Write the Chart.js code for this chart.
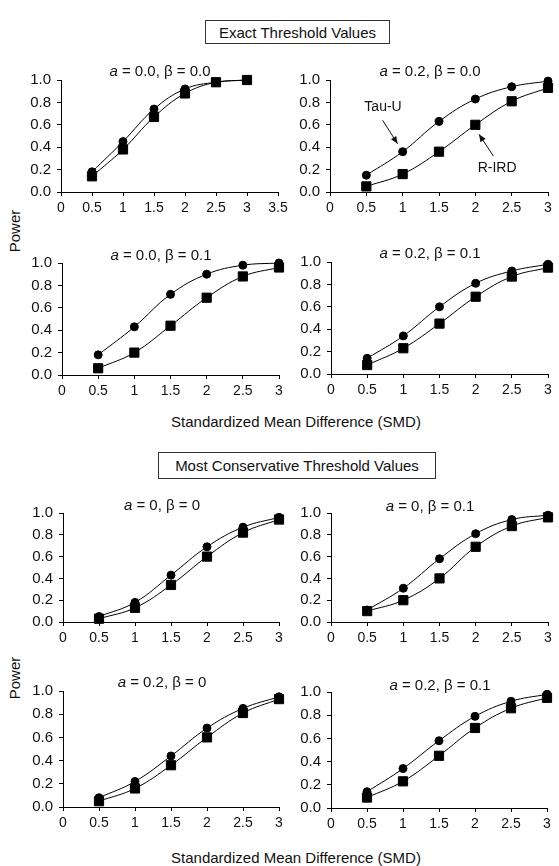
<!DOCTYPE html>
<html><head><meta charset="utf-8">
<script src="https://cdn.jsdelivr.net/npm/chart.js@4/dist/chart.umd.min.js"></script>
<style>
body{margin:0;background:#fff;width:559px;height:866px;position:relative;overflow:hidden;font-family:"Liberation Sans",Arial,sans-serif;color:#111}
canvas{position:absolute}
.box{position:absolute;border:1px solid #333;font-size:15px;box-sizing:border-box;display:flex;align-items:center;justify-content:center;white-space:nowrap}
.lbl{position:absolute;font-size:15px;white-space:nowrap;transform:translate(-50%,-50%)}
.power{position:absolute;font-size:15px;white-space:nowrap;transform:translate(-50%,-50%) rotate(-90deg)}
</style>
</head><body>
<div class="box" style="left:205px;top:20px;width:185px;height:24px">Exact Threshold Values</div>
<div class="box" style="left:158px;top:452px;width:278px;height:27px">Most Conservative Threshold Values</div>
<div class="power" style="left:14px;top:231px">Power</div>
<div class="power" style="left:14px;top:678px">Power</div>
<div class="lbl" style="left:296px;top:421px">Standardized Mean Difference (SMD)</div>
<div class="lbl" style="left:296px;top:857px">Standardized Mean Difference (SMD)</div>
<script>
// ---- data ----
const smd = [0.5, 1, 1.5, 2, 2.5, 3];
const xTicksWide = [0, 0.5, 1, 1.5, 2, 2.5, 3, 3.5];
const xTicks = [0, 0.5, 1, 1.5, 2, 2.5, 3];
const yTicks = [0, 0.2, 0.4, 0.6, 0.8, 1.0];
const seriesNames = ['Tau-U', 'R-IRD'];

// Exact threshold values
const tauU_exact_a00_b00 = [0.18, 0.45, 0.74, 0.92, 0.98, 1.00];
const rird_exact_a00_b00 = [0.14, 0.38, 0.67, 0.88, 0.98, 1.00];
const tauU_exact_a02_b00 = [0.15, 0.36, 0.63, 0.83, 0.94, 0.99];
const rird_exact_a02_b00 = [0.05, 0.16, 0.36, 0.60, 0.81, 0.93];
const tauU_exact_a00_b01 = [0.18, 0.43, 0.72, 0.90, 0.98, 1.00];
const rird_exact_a00_b01 = [0.06, 0.20, 0.44, 0.69, 0.88, 0.96];
const tauU_exact_a02_b01 = [0.14, 0.34, 0.60, 0.81, 0.92, 0.98];
const rird_exact_a02_b01 = [0.08, 0.23, 0.45, 0.69, 0.87, 0.95];
// Most conservative threshold values
const tauU_cons_a0_b0 = [0.05, 0.18, 0.43, 0.69, 0.87, 0.96];
const rird_cons_a0_b0 = [0.03, 0.13, 0.34, 0.60, 0.82, 0.94];
const tauU_cons_a0_b01 = [0.11, 0.31, 0.58, 0.81, 0.94, 0.98];
const rird_cons_a0_b01 = [0.10, 0.20, 0.40, 0.69, 0.88, 0.96];
const tauU_cons_a02_b0 = [0.08, 0.22, 0.44, 0.68, 0.85, 0.95];
const rird_cons_a02_b0 = [0.05, 0.16, 0.36, 0.60, 0.81, 0.93];
const tauU_cons_a02_b01 = [0.14, 0.34, 0.58, 0.79, 0.92, 0.98];
const rird_cons_a02_b01 = [0.09, 0.23, 0.45, 0.69, 0.86, 0.95];

const panelTitles = [
  ['0.0', '0.0'], ['0.2', '0.0'], ['0.0', '0.1'], ['0.2', '0.1'],
  ['0', '0'], ['0', '0.1'], ['0.2', '0'], ['0.2', '0.1']
];

// ---- layout ----
const FONT = '"Liberation Sans", Arial, sans-serif';
const YW = 50, PT = 20, PR = 14, XH = 28;
const panels = [
  {tau: tauU_exact_a00_b00, rird: rird_exact_a00_b00, xt: xTicksWide, L: 61, R: 278, T: 80, B: 192, tx: 160, ty: 70},
  {tau: tauU_exact_a02_b00, rird: rird_exact_a02_b00, xt: xTicks, L: 330, R: 548, T: 80, B: 192, tx: 430, ty: 70, notes: true},
  {tau: tauU_exact_a00_b01, rird: rird_exact_a00_b01, xt: xTicks, L: 62, R: 279, T: 263, B: 375, tx: 161, ty: 254},
  {tau: tauU_exact_a02_b01, rird: rird_exact_a02_b01, xt: xTicks, L: 331, R: 548, T: 262, B: 374, tx: 430, ty: 252},
  {tau: tauU_cons_a0_b0, rird: rird_cons_a0_b0, xt: xTicks, L: 63, R: 279, T: 513, B: 622, tx: 162, ty: 504},
  {tau: tauU_cons_a0_b01, rird: rird_cons_a0_b01, xt: xTicks, L: 331, R: 548, T: 513, B: 622, tx: 430, ty: 505},
  {tau: tauU_cons_a02_b0, rird: rird_cons_a02_b0, xt: xTicks, L: 63, R: 279, T: 691, B: 807, tx: 162, ty: 681},
  {tau: tauU_cons_a02_b01, rird: rird_cons_a02_b01, xt: xTicks, L: 331, R: 547, T: 692, B: 808, tx: 440, ty: 684}
];

// annotations for panel 2 (in data coordinates)
const notesPlugin = {
  id: 'notes',
  afterDatasetsDraw(chart) {
    const x = chart.scales.x, y = chart.scales.y, ctx = chart.ctx;
    const P = (a, b) => [x.getPixelForValue(a), y.getPixelForValue(b)];
    ctx.save();
    ctx.fillStyle = '#111'; ctx.strokeStyle = '#111'; ctx.lineWidth = 1;
    ctx.font = '14px ' + FONT; ctx.textAlign = 'center'; ctx.textBaseline = 'middle';
    let p = P(0.73, 0.755); ctx.fillText(seriesNames[0], p[0], p[1]);
    p = P(2.30, 0.21); ctx.fillText(seriesNames[1], p[0], p[1]);
    const arrow = (a, b) => {
      const s = P(a[0], a[1]), e = P(b[0], b[1]);
      const ang = Math.atan2(e[1] - s[1], e[0] - s[0]);
      ctx.beginPath(); ctx.moveTo(s[0], s[1]); ctx.lineTo(e[0], e[1]); ctx.stroke();
      const h = 8, w = 0.4;
      ctx.beginPath();
      ctx.moveTo(e[0], e[1]);
      ctx.lineTo(e[0] - h * Math.cos(ang - w), e[1] - h * Math.sin(ang - w));
      ctx.lineTo(e[0] - h * Math.cos(ang + w), e[1] - h * Math.sin(ang + w));
      ctx.closePath(); ctx.fill();
    };
    arrow([0.725, 0.64], [0.93, 0.43]);
    arrow([2.25, 0.32], [2.05, 0.515]);
    ctx.restore();
  }
};

panels.forEach((p, i) => {
  const c = document.createElement('canvas');
  const w = (p.R - p.L) + YW + PR, h = (p.B - p.T) + PT + XH;
  c.width = w; c.height = h;
  c.style.left = (p.L - YW) + 'px'; c.style.top = (p.T - PT) + 'px';
  c.style.width = w + 'px'; c.style.height = h + 'px';
  document.body.appendChild(c);

  const t = document.createElement('div');
  t.className = 'lbl';
  t.style.left = p.tx + 'px'; t.style.top = p.ty + 'px';
  t.innerHTML = '<i>a</i> = ' + panelTitles[i][0] + ', \u03b2 = ' + panelTitles[i][1];
  document.body.appendChild(t);

  const mk = (vals, style, r, name) => ({
    label: name,
    data: smd.map((v, k) => ({x: v, y: vals[k]})),
    borderColor: '#000', borderWidth: 1, backgroundColor: '#000',
    pointStyle: style, pointRadius: r, pointBorderWidth: 1,
    pointBorderColor: '#000', pointBackgroundColor: '#000',
    tension: 0.4, fill: false, clip: false
  });
  const axisCommon = {
    grid: {drawOnChartArea: false, drawTicks: true, tickLength: 4, color: '#000', lineWidth: 1},
    border: {color: '#000', width: 1},
  };
  new Chart(c, {
    type: 'line',
    data: {datasets: [mk(p.tau, 'circle', 4, seriesNames[0]), mk(p.rird, 'rect', 6.5, seriesNames[1])]},
    options: {
      responsive: false, animation: false, events: [],
      layout: {padding: {left: 0, top: PT, right: PR, bottom: 0}},
      plugins: {legend: {display: false}, tooltip: {enabled: false}},
      scales: {
        x: Object.assign({}, axisCommon, {
          type: 'linear', min: 0, max: p.xt[p.xt.length - 1],
          afterBuildTicks: s => { s.ticks = p.xt.map(v => ({value: v})); },
          afterFit: s => { s.height = XH; },
          ticks: {color: '#111', font: {size: 14, family: FONT}, padding: 4, maxRotation: 0, autoSkip: false, callback: v => String(v)}
        }),
        y: Object.assign({}, axisCommon, {
          type: 'linear', min: 0, max: 1,
          afterBuildTicks: s => { s.ticks = yTicks.map(v => ({value: v})); },
          afterFit: s => { s.width = YW; },
          ticks: {color: '#111', font: {size: 15, family: FONT}, padding: 6, autoSkip: false, callback: v => v.toFixed(1)}
        })
      }
    },
    plugins: p.notes ? [notesPlugin] : []
  });
});
</script>
</body></html>
